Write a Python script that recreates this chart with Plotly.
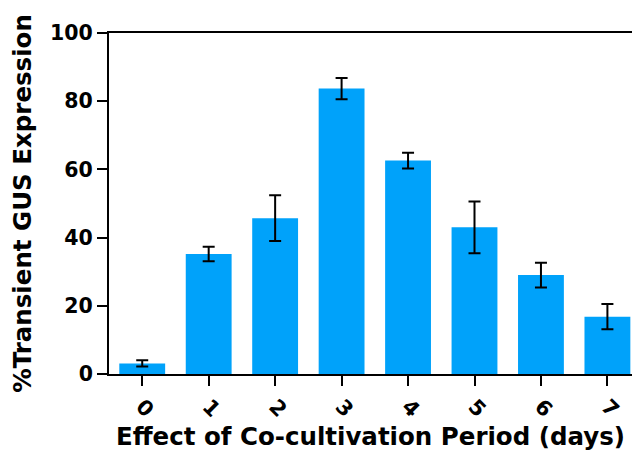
import plotly.graph_objects as go

categories = ["0", "1", "2", "3", "4", "5", "6", "7"]
values = [3.1, 35.2, 45.7, 83.7, 62.6, 43.0, 29.0, 16.8]
errors = [0.9, 2.1, 6.7, 3.1, 2.3, 7.6, 3.6, 3.7]
y_ticks = [0, 20, 40, 60, 80, 100]

font_family = "DejaVu Sans, Liberation Sans, Arial, sans-serif"

fig = go.Figure(go.Bar(
    x=list(range(len(categories))),
    y=values,
    width=0.69,
    marker=dict(color="#00A2FA", line=dict(width=0)),
    error_y=dict(type="data", array=errors, visible=True,
                 color="black", thickness=2, width=6),
))

fig.update_layout(
    width=632, height=454,
    margin=dict(l=109, r=0, t=33, b=80),
    plot_bgcolor="white", paper_bgcolor="white",
    showlegend=False,
    font=dict(family=font_family, color="black"),
    xaxis=dict(
        range=[-0.5, 7.37],
        tickmode="array",
        tickvals=list(range(len(categories))),
        ticktext=[f"<b>{c}</b>" for c in categories],
        tickangle=45,
        tickfont=dict(size=21, family=font_family, color="black"),
        ticks="outside", ticklen=10, tickwidth=2, tickcolor="black",
        showline=True, linecolor="black", linewidth=2, mirror=True,
        showgrid=False, zeroline=False,
        title=dict(text="<b>Effect of Co-cultivation Period (days)</b>",
                   font=dict(size=24.5, family=font_family, color="black"),
                   standoff=5),
    ),
    yaxis=dict(
        range=[0, 100],
        tickmode="array",
        tickvals=y_ticks,
        ticktext=[f"<b>{t}</b>" for t in y_ticks],
        tickfont=dict(size=20.5, family=font_family, color="black"),
        ticks="outside", ticklen=10, tickwidth=2, tickcolor="black",
        showline=True, linecolor="black", linewidth=2,
        showgrid=False, zeroline=False,
        title=dict(text="<b>%Transient GUS Expression</b>",
                   font=dict(size=24.5, family=font_family, color="black"),
                   standoff=12),
    ),
)

fig.write_html("out.html")
